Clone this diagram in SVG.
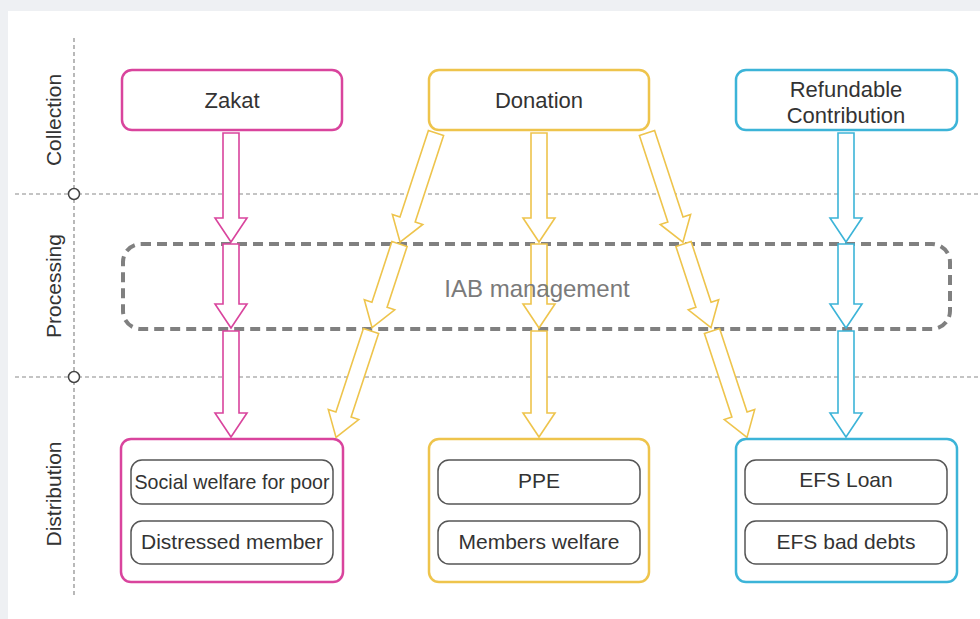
<svg xmlns="http://www.w3.org/2000/svg" width="980" height="619" viewBox="0 0 980 619">
<style>
text{font-family:"Liberation Sans",Arial,sans-serif;fill:#333}
.lane{font-size:21px}
.title{font-size:22px;text-anchor:middle}
.item{font-size:21px;text-anchor:middle}
.grid{stroke:#8a8a8a;stroke-width:1.2;stroke-dasharray:4 3;fill:none}
.box{fill:#fff;stroke-width:2.5}
.inner{fill:#fff;stroke:#555;stroke-width:1.5}
.z{stroke:#d9449d}
.d{stroke:#eec44c}
.r{stroke:#3cb4d8}
.arr{fill:#fff;stroke-width:1.6;stroke-linejoin:miter}
</style>
<defs>
<polygon id="a109" points="-8,0 8,0 8,85 16,85 0,109 -16,85 -8,85"/>
<polygon id="a84" points="-8,0 8,0 8,60 16,60 0,84 -16,60 -8,60"/>
<polygon id="a106" points="-8,0 8,0 8,82 16,82 0,106 -16,82 -8,82"/>
<polygon id="b115" points="-8,0 8,0 8,91 16,91 0,115 -16,91 -8,91"/>
<polygon id="b88" points="-8,0 8,0 8,64 16,64 0,88 -16,64 -8,64"/>
<polygon id="b112" points="-8,0 8,0 8,88 16,88 0,112 -16,88 -8,88"/>
</defs>
<rect x="0" y="0" width="980" height="619" fill="#eef0f3"/>
<rect x="8" y="11" width="972" height="608" fill="#fff"/>

<g id="lanes">
<line class="grid" x1="74" y1="38" x2="74" y2="595"/>
<line class="grid" x1="15" y1="194" x2="980" y2="194"/>
<line class="grid" x1="15" y1="377" x2="980" y2="377"/>
<circle cx="74" cy="194" r="5.5" fill="#fff" stroke="#444" stroke-width="1.5"/>
<circle cx="74" cy="377" r="5.5" fill="#fff" stroke="#444" stroke-width="1.5"/>
<text class="lane" transform="translate(61,120) rotate(-90)" text-anchor="middle">Collection</text>
<text class="lane" transform="translate(61,286) rotate(-90)" text-anchor="middle">Processing</text>
<text class="lane" transform="translate(61,494) rotate(-90)" text-anchor="middle">Distribution</text>
</g>

<g id="iab-frame">
<rect x="123" y="244" width="827" height="85" rx="18" fill="none" stroke="#808080" stroke-width="4" stroke-dasharray="10 6"/>
</g>

<g id="connectors">
<g class="arr z">
<use href="#a109" transform="translate(231,133)"/>
<use href="#a84" transform="translate(231,244)"/>
<use href="#a106" transform="translate(231,331)"/>
</g>
<g class="arr d">
<use href="#a109" transform="translate(539,133)"/>
<use href="#a84" transform="translate(539,244)"/>
<use href="#a106" transform="translate(539,331)"/>
<use href="#b115" transform="translate(436,133) rotate(18.2)"/>
<use href="#b88" transform="translate(399.5,244) rotate(18.2)"/>
<use href="#b112" transform="translate(371,331) rotate(18.2)"/>
<use href="#b115" transform="translate(647,133) rotate(-18.2)"/>
<use href="#b88" transform="translate(683.5,244) rotate(-18.2)"/>
<use href="#b112" transform="translate(712,331) rotate(-18.2)"/>
</g>
<g class="arr r">
<use href="#a109" transform="translate(846,133)"/>
<use href="#a84" transform="translate(846,244)"/>
<use href="#a106" transform="translate(846,331)"/>
</g>
</g>

<g id="iab">
<text x="537" y="297" font-size="24" text-anchor="middle" style="fill:#7a7a7a">IAB management</text>
</g>

<g id="zakat">
<rect class="box z" x="122" y="70" width="220" height="60" rx="10"/>
<text class="title" x="232" y="108">Zakat</text>
</g>
<g id="donation">
<rect class="box d" x="429" y="70" width="220" height="60" rx="10"/>
<text class="title" x="539" y="108">Donation</text>
</g>
<g id="refundable">
<rect class="box r" x="736" y="70" width="221" height="60" rx="10"/>
<text class="title" x="846" y="97">Refundable</text>
<text class="title" x="846" y="123">Contribution</text>
</g>

<g id="zakat-dist">
<rect class="box z" x="121" y="439" width="222" height="143" rx="10"/>
<rect class="inner" x="131" y="460" width="202" height="44" rx="11"/>
<text class="item" x="232" y="489" textLength="195" lengthAdjust="spacingAndGlyphs">Social welfare for poor</text>
<rect class="inner" x="131" y="521" width="202" height="43" rx="11"/>
<text class="item" x="232" y="549">Distressed member</text>
</g>
<g id="donation-dist">
<rect class="box d" x="429" y="439" width="220" height="143" rx="10"/>
<rect class="inner" x="438" y="460" width="202" height="44" rx="11"/>
<text class="item" x="539" y="488">PPE</text>
<rect class="inner" x="438" y="521" width="202" height="43" rx="11"/>
<text class="item" x="539" y="549">Members welfare</text>
</g>
<g id="refundable-dist">
<rect class="box r" x="736" y="439" width="221" height="143" rx="10"/>
<rect class="inner" x="745" y="460" width="202" height="44" rx="11"/>
<text class="item" x="846" y="487">EFS Loan</text>
<rect class="inner" x="745" y="521" width="202" height="43" rx="11"/>
<text class="item" x="846" y="549">EFS bad debts</text>
</g>
</svg>
